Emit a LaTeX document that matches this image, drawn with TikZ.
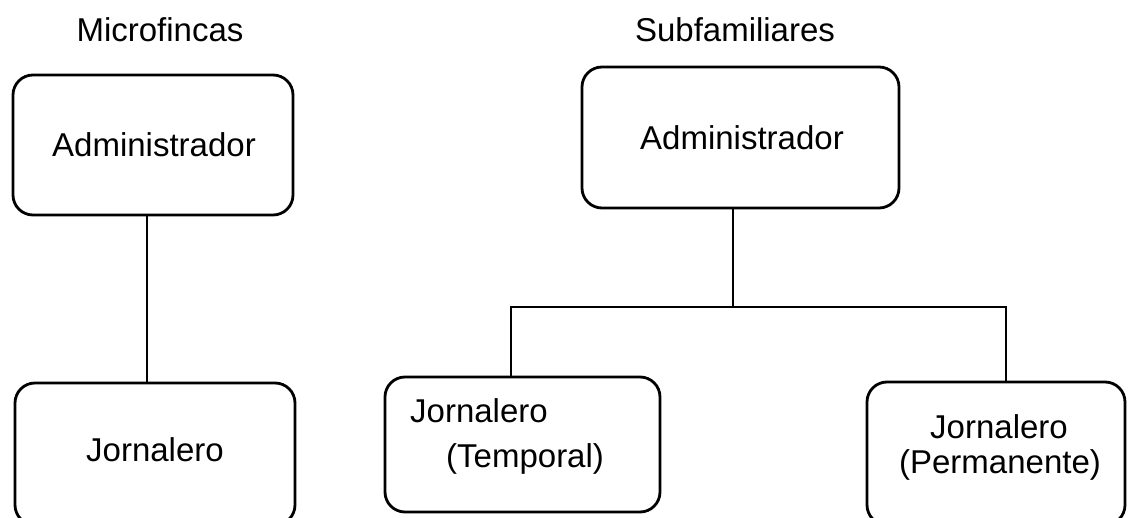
\documentclass[tikz,border=0pt]{standalone}
\usepackage{fontspec}
\setmainfont{Liberation Sans}
\begin{document}
\begin{tikzpicture}[x=1pt,y=-1pt,
  box/.style={draw, line width=2.8pt, rounded corners=20pt, rectangle, inner sep=0pt},
  lbl/.style={font=\fontsize{33}{38}\selectfont, inner sep=0pt, anchor=base},
  lblL/.style={lbl, anchor=base west},
  conn/.style={line width=2.6pt}]
\useasboundingbox (0,0) rectangle (1128,518);
% boxes
\node[box, minimum width=280pt, minimum height=140pt] (A1) at (153,145) {};
\node[box, minimum width=280pt, minimum height=142pt] (J1) at (155,454) {};
\node[box, minimum width=317pt, minimum height=141pt] (A2) at (740.5,137.5) {};
\node[box, minimum width=275pt, minimum height=135pt] (T) at (522.5,444.5) {};
\node[box, minimum width=258pt, minimum height=143pt] (P) at (996,453.5) {};
% titles
\node[lbl] (t1) at (160,42) {Microfincas};
\node[lbl] (t2) at (735,42) {Subfamiliares};
% texts
\node[lbl] (a1t) at (154,157) {Administrador};
\node[lbl] (a2t) at (742,150) {Administrador};
\node[lbl] (j1t) at (155,462) {Jornalero};
\node[lblL] (tt1) at (410,423) {Jornalero};
\node[lblL] (tt2) at (446,468) {(Temporal)};
\node[lbl] (pt1) at (999,439) {Jornalero};
\node[lbl] (pt2) at (1000,474) {(Permanente)};
% connectors
\coordinate (jL) at (511,307);
\coordinate (jM) at (733,307);
\coordinate (jR) at (1006,307);
\coordinate (m1) at (147,0);
\draw[conn] (A1.south -| m1) -- (J1.north -| m1);
\draw[conn] (A2.south -| jM) -- (jM);
\draw[conn, line cap=rect] (jL) -- (jR);
\draw[conn] (jL) -- (T.north -| jL);
\draw[conn] (jR) -- (P.north -| jR);
\end{tikzpicture}
\end{document}
